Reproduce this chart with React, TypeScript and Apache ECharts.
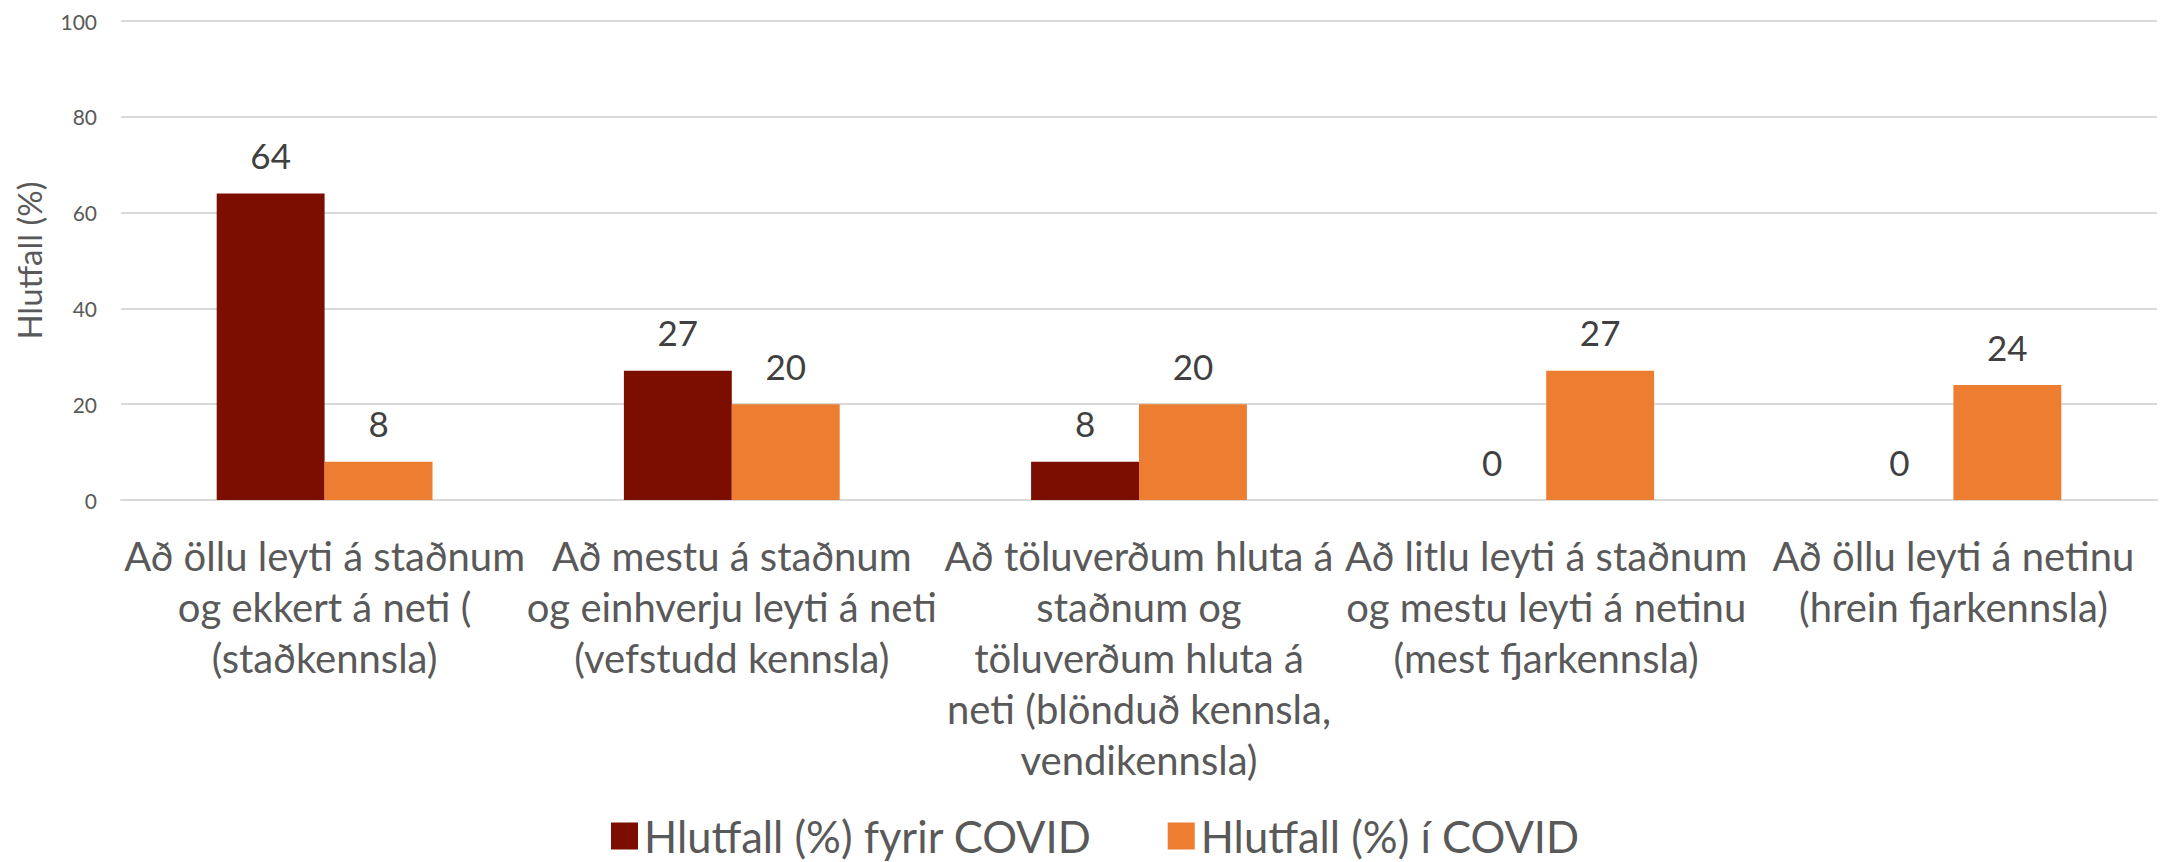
import React, { useEffect, useRef } from "react";
import * as echarts from "echarts";

const categories = [
  "Að öllu leyti á staðnum\nog ekkert á neti (\n(staðkennsla)",
  "Að mestu á staðnum\nog einhverju leyti á neti\n(vefstudd kennsla)",
  "Að töluverðum hluta á\nstaðnum og\ntöluverðum hluta á\nneti (blönduð kennsla,\nvendikennsla)",
  "Að litlu leyti á staðnum\nog mestu leyti á netinu\n(mest fjarkennsla)",
  "Að öllu leyti á netinu\n(hrein fjarkennsla)",
];
const seriesNames = ["Hlutfall (%) fyrir COVID", "Hlutfall (%) í COVID"];
const beforeCovid = [64, 27, 8, 0, 0];
const duringCovid = [8, 20, 20, 27, 24];
const yTicks = [0, 20, 40, 60, 80, 100];
const yAxisTitle = "Hlutfall (%)";

const FONT = "Lato, 'Noto Sans', sans-serif";

export default function App() {
  const ref = useRef<HTMLDivElement>(null);
  useEffect(() => {
    if (!ref.current) return;
    const chart = echarts.init(ref.current, undefined, { renderer: "svg" });
    const labelStyle = {
      show: true,
      position: "top" as const,
      distance: 21,
      fontSize: 35,
      fontFamily: FONT,
      color: "#404040",
    };
    chart.setOption({
      animation: false,
      backgroundColor: "#ffffff",
      textStyle: { fontFamily: FONT },
      grid: { left: 121, right: 4, top: 21, bottom: 362, containLabel: false },
      legend: {
        left: 606,
        top: 808,
        icon: "rect",
        itemWidth: 27,
        itemHeight: 27,
        itemGap: 76,
        textStyle: {
          fontSize: 43.5,
          lineHeight: 46,
          color: "#595959",
          fontFamily: FONT,
          padding: [0, 0, 0, 1],
        },
        data: seriesNames,
      },
      xAxis: {
        type: "category",
        data: categories,
        axisLine: { show: true, lineStyle: { color: "#d9d9d9", width: 2 } },
        axisTick: { show: false },
        axisLabel: {
          interval: 0,
          fontSize: 40,
          lineHeight: 51,
          margin: 30,
          color: "#595959",
          fontFamily: FONT,
          align: "center",
        },
      },
      yAxis: {
        type: "value",
        min: yTicks[0],
        max: yTicks[yTicks.length - 1],
        interval: 20,
        name: yAxisTitle,
        nameLocation: "middle",
        nameRotate: 90,
        nameGap: 76,
        nameTextStyle: { fontSize: 33, color: "#595959", fontFamily: FONT },
        axisLine: { show: false },
        axisTick: { show: false },
        axisLabel: { fontSize: 21, color: "#595959", margin: 24, fontFamily: FONT },
        splitLine: { lineStyle: { color: "#d9d9d9", width: 2 } },
      },
      series: [
        {
          name: seriesNames[0],
          type: "bar",
          data: beforeCovid,
          barGap: "0%",
          barCategoryGap: "47%",
          itemStyle: { color: "#7B0E00" },
          label: labelStyle,
        },
        {
          name: seriesNames[1],
          type: "bar",
          data: duringCovid,
          barGap: "0%",
          barCategoryGap: "47%",
          itemStyle: { color: "#ED7D31" },
          label: labelStyle,
        },
      ],
    });
    return () => chart.dispose();
  }, []);
  return (
    <div
      ref={ref}
      style={{ position: "fixed", left: 0, top: 0, width: 2161, height: 862, background: "#fff" }}
    />
  );
}
